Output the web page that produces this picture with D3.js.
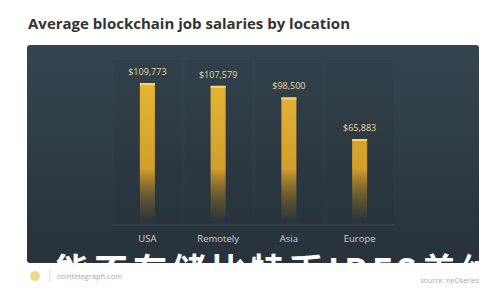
<!DOCTYPE html>
<html lang="en">
<meta charset="utf-8">
<head>
    <script src="https://d3js.org/d3.v7.min.js"></script>
</head>
<style>
	body { margin: 0; background: #fff; }
	svg text { font-family: "Open Sans", sans-serif; }
</style>
<body>
</body>
<script>
var locations = ["USA", "Remotely", "Asia", "Europe"];
var salaries = [109773, 107579, 98500, 65883];
var salaryLabels = ["$109,773", "$107,579", "$98,500", "$65,883"];

var width = 500, height = 300;
var svg = d3.select("body").append("svg")
	.attr("width", width)
	.attr("height", height);

var defs = svg.append("defs");

// panel background
var bg = defs.append("linearGradient").attr("id", "bg")
	.attr("x1", 0).attr("y1", 0).attr("x2", 0).attr("y2", 1);
bg.append("stop").attr("offset", "0%").attr("stop-color", "#35454f");
bg.append("stop").attr("offset", "100%").attr("stop-color", "#27323a");

// bars fade out toward the baseline
var bar = defs.append("linearGradient").attr("id", "bar")
	.attr("gradientUnits", "userSpaceOnUse")
	.attr("x1", 0).attr("y1", 80).attr("x2", 0).attr("y2", 223);
bar.append("stop").attr("offset", "0%").attr("stop-color", "#e6b634");
bar.append("stop").attr("offset", "0.62").attr("stop-color", "#d19f2b");
bar.append("stop").attr("offset", "0.95").attr("stop-color", "#7a5e22").attr("stop-opacity", 0.2);
bar.append("stop").attr("offset", "1").attr("stop-color", "#2b363e").attr("stop-opacity", 0);

defs.append("clipPath").attr("id", "panelClip")
	.append("rect")
	.attr("x", 27).attr("y", 45).attr("width", 452).attr("height", 218);

svg.append("text")
	.attr("x", 28).attr("y", 29)
	.attr("font-size", 15)
	.attr("font-weight", "bold")
	.attr("fill", "#333")
	.text("Average blockchain job salaries by location");

svg.append("rect")
	.attr("x", 27).attr("y", 45).attr("width", 452).attr("height", 218).attr("rx", 3)
	.attr("fill", "url(#bg)");

var x = d3.scaleBand()
	.domain(locations)
	.range([112, 395])
	.paddingInner(0)
	.paddingOuter(0);

var y = d3.scaleLinear()
	.domain([0, 120000])
	.range([223, 70]);

var barW = 15;

// faint column bands
svg.append("g").selectAll("rect")
	.data(locations)
	.enter()
	.append("rect")
	.attr("x", function(d) { return x(d) + 2; })
	.attr("y", 60)
	.attr("width", x.bandwidth() - 4)
	.attr("height", 223 - 60)
	.attr("fill", "#1f2a31")
	.attr("opacity", 0.12);

svg.append("line")
	.attr("x1", 112).attr("x2", 395)
	.attr("y1", 225).attr("y2", 225)
	.attr("stroke", "#3e4c56")
	.attr("stroke-width", 1);

var g = svg.append("g").selectAll("g")
	.data(salaries)
	.enter()
	.append("g")
	.attr("transform", function(d, i) {
		return "translate(" + (x(locations[i]) + x.bandwidth() / 2) + ",0)";
	});

g.append("rect")
	.attr("x", -barW / 2)
	.attr("y", function(d) { return y(d); })
	.attr("width", barW)
	.attr("height", function(d) { return y(0) - y(d); })
	.attr("fill", "url(#bar)");

g.append("rect")
	.attr("x", -barW / 2)
	.attr("y", function(d) { return y(d); })
	.attr("width", barW)
	.attr("height", 2)
	.attr("fill", "#f6d56a");

g.append("text")
	.attr("y", function(d) { return y(d) - 8; })
	.attr("text-anchor", "middle")
	.attr("font-size", 9)
	.attr("fill", "#e9d9a2")
	.text(function(d, i) { return salaryLabels[i]; });

g.append("text")
	.attr("y", 242)
	.attr("text-anchor", "middle")
	.attr("font-size", 9.5)
	.attr("fill", "#c9d1d6")
	.text(function(d, i) { return locations[i]; });

// watermark over the bottom of the panel, cut off at the panel's edge
svg.append("g")
	.attr("clip-path", "url(#panelClip)")
	.append("text")
	.attr("x", 55).attr("y", 283)
	.attr("font-size", 34)
	.attr("letter-spacing", 5)
	.attr("fill", "#fff")
	.style("font-family", "'Noto Sans CJK SC', sans-serif")
	.style("font-weight", "bold")
	.text("能不存储比特币IPFS美纳");

// footer
svg.append("circle")
	.attr("cx", 35).attr("cy", 276).attr("r", 5)
	.attr("fill", "#f0d98a");
svg.append("line")
	.attr("x1", 50).attr("x2", 50).attr("y1", 270).attr("y2", 282)
	.attr("stroke", "#ddd");
svg.append("text")
	.attr("x", 57).attr("y", 279)
	.attr("font-size", 7.5)
	.attr("fill", "#aaa")
	.text("cointelegraph.com");
svg.append("text")
	.attr("x", 479).attr("y", 283)
	.attr("text-anchor", "end")
	.attr("font-size", 7)
	.attr("fill", "#aaa")
	.text("source: neOseries");
</script>
</html>
